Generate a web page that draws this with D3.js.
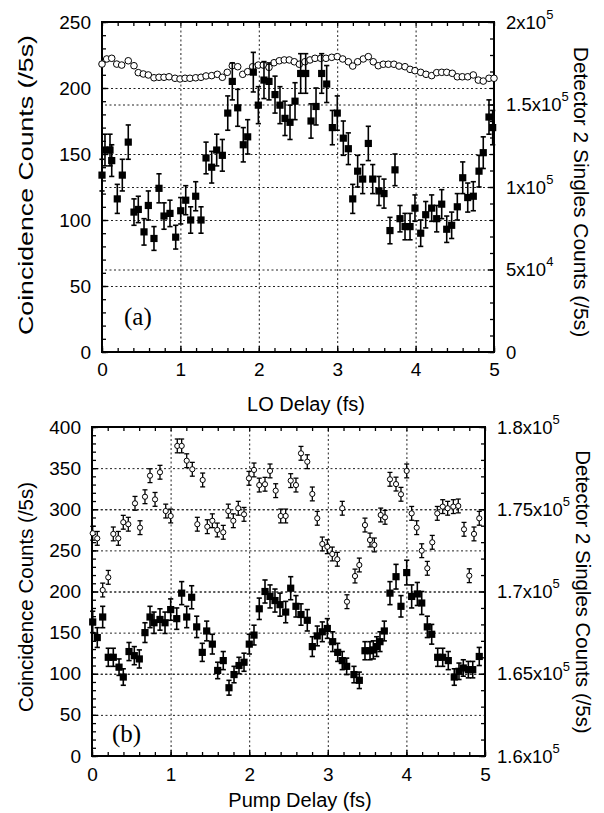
<!DOCTYPE html>
<html>
<head>
<meta charset="utf-8">
<script src="https://cdn.jsdelivr.net/npm/d3@7"></script>
<style>
  body { margin: 0; background: #fff; }
  text { font-family: "Liberation Sans", Arial, sans-serif; fill: #000; }
</style>
</head>
<body>
<svg id="chart" width="604" height="813"></svg>
<script>
// ---- panel (a): LO delay scan ----
let coincXA = [0.000,0.038,0.102,0.124,0.195,0.259,0.335,0.408,0.463,0.536,0.591,0.663,0.727,0.791,0.867,0.940,1.004,1.068,1.131,1.195,
  1.263,1.327,1.399,1.463,1.535,1.604,1.662,1.731,1.802,1.858,1.930,1.994,2.066,2.130,2.207,2.270,2.334,2.398,2.462,2.534,
  2.598,2.666,2.730,2.802,2.866,2.938,3.001,3.078,3.142,3.198,3.261,3.325,3.397,3.453,3.533,3.597,3.673,3.737,3.801,3.865,
  3.929,3.992,4.065,4.129,4.205,4.269,4.333,4.397,4.460,4.532,4.601,4.665,4.736,4.809,4.863,4.936,4.983];
let coincA = [134,153,153,145,116,134,159,106,108,91,111,86,124,103,105,87,107,115,100,118,
  100,147,140,153,149,181,205,185,157,163,212,187,206,205,195,187,177,174,190,211,
  211,175,186,211,203,170,181,162,154,116,137,131,158,131,122,120,92,138,101,95,
  95,109,90,104,109,101,112,93,96,110,132,117,118,137,151,178,170];
let coincErrA = [12,12,12,12,11,12,13,10,10,10,11,9,11,10,10,9,10,11,10,11,
  10,12,12,12,12,13,14,14,13,13,15,14,14,14,14,14,13,13,14,15,
  15,13,14,15,14,13,13,13,12,11,12,11,13,11,11,11,10,12,10,10,
  10,10,10,10,10,10,11,10,10,10,12,11,11,12,12,13,13];
let singlesXA = [0.000,0.060,0.124,0.188,0.251,0.335,0.408,0.463,0.527,0.591,0.663,0.727,0.791,0.855,0.931,0.995,1.059,1.122,1.195,1.263,
  1.327,1.399,1.471,1.535,1.598,1.662,1.731,1.795,1.858,1.922,1.994,2.057,2.130,2.194,2.261,2.325,2.389,2.453,2.517,2.589,
  2.653,2.717,2.790,2.857,2.930,3.001,3.070,3.142,3.198,3.261,3.333,3.397,3.460,3.524,3.588,3.652,3.724,3.788,3.865,3.929,
  3.992,4.065,4.133,4.205,4.269,4.333,4.397,4.468,4.532,4.596,4.665,4.736,4.800,4.863,4.936,5.000];
let singlesA = [174500,177600,178000,174500,173900,176500,173500,169300,168500,167900,166200,166500,166500,166800,165900,165500,165900,165900,166200,166500,
  167300,167500,168300,166500,169500,173500,172900,168300,169900,172900,173900,173900,172500,175300,176500,177000,177000,175900,174400,175900,
  177000,178000,178000,178000,178600,179000,177600,175900,173300,175900,177600,179000,175900,173500,174400,174400,174400,173300,172900,171300,
  170500,169500,168300,167500,169300,169500,169500,168900,166800,166800,166800,167900,164800,164200,165900,165900];

// ---- panel (b): pump delay scan ----
let coincXB = [0.009,0.067,0.136,0.207,0.271,0.344,0.398,0.471,0.538,0.602,0.674,0.738,0.789,0.865,0.929,1.001,1.078,1.141,1.205,1.268,
  1.332,1.403,1.459,1.531,1.599,1.670,1.743,1.807,1.870,1.934,2.001,2.061,2.128,2.201,2.265,2.328,2.392,2.464,2.528,2.595,
  2.659,2.739,2.803,2.866,2.930,2.994,3.062,3.126,3.184,3.240,3.333,3.401,3.473,3.537,3.579,3.622,3.664,3.719,3.791,3.868,
  3.931,4.004,4.067,4.139,4.195,4.266,4.322,4.398,4.462,4.533,4.609,4.669,4.724,4.788,4.844,4.927];
let coincB = [163,144,169,120,120,108,96,127,122,118,150,169,162,166,162,178,167,198,169,193,
  157,126,152,136,104,116,83,99,110,114,136,147,179,200,194,189,184,175,204,182,
  172,165,133,146,151,155,139,126,116,109,99,92,128,128,129,133,139,152,198,218,
  182,223,194,197,186,157,148,120,120,116,96,103,107,105,105,121];
let coincErrB = [13,12,13,11,11,10,10,11,11,11,12,13,13,13,13,13,13,14,13,14,
  13,11,12,12,10,11,9,10,10,11,12,12,13,14,14,14,14,13,14,13,
  13,13,12,12,12,12,12,11,11,10,10,10,11,11,11,12,12,12,14,15,
  13,15,14,14,14,13,12,11,11,11,10,10,10,10,10,11];
let singlesXB = [0.009,0.067,0.136,0.207,0.271,0.335,0.398,0.462,0.547,0.611,0.674,0.738,0.802,0.865,0.938,1.001,1.085,1.141,1.205,1.276,
  1.340,1.408,1.467,1.531,1.594,1.670,1.734,1.798,1.861,1.934,1.997,2.061,2.128,2.201,2.265,2.337,2.401,2.464,2.528,2.595,
  2.659,2.739,2.803,2.866,2.930,2.994,3.057,3.121,3.184,3.244,3.346,3.401,3.473,3.537,3.592,3.673,3.728,3.791,3.868,3.931,
  4.004,4.067,4.131,4.195,4.266,4.329,4.393,4.462,4.525,4.597,4.660,4.733,4.800,4.860,4.927];
let singlesB = [173540,173230,170090,170860,173500,173230,174210,174090,175360,173880,175760,177040,175600,177250,174890,174590,178850,178850,177950,177430,
  174090,176780,173940,174300,173740,173600,174890,174300,175060,174690,176880,177390,176470,176520,177330,176130,174590,174590,176740,176470,
  178400,177890,175930,174450,172890,172720,172280,171960,175060,169380,170940,171610,174040,173130,172830,174650,174510,176820,176530,175910,
  177330,174750,173880,172480,171410,172990,174750,175160,175060,175160,175200,173780,170960,173500,174450];
let singlesErrB = 420;

// ---- tick labels ----
let delayTicks = [0, 1, 2, 3, 4, 5];
let coincTicksA = [0, 50, 100, 150, 200, 250];
let coincTicksB = [0, 50, 100, 150, 200, 250, 300, 350, 400];
let singlesTicksA = [0, 50000, 100000, 150000, 200000];
let singlesLabelsA = [["0", ""], ["5x10", "4"], ["1x10", "5"], ["1.5x10", "5"], ["2x10", "5"]];
let singlesTicksB = [160000, 165000, 170000, 175000, 180000];
let singlesLabelsB = [["1.6x10", "5"], ["1.65x10", "5"], ["1.7x10", "5"], ["1.75x10", "5"], ["1.8x10", "5"]];

let svg = d3.select('#chart');
svg.append('rect').attr('width', 604).attr('height', 813).attr('fill', '#fff');

let drawPanel = function (p) {
  let x = d3.scaleLinear().domain([0, 5]).range([p.left, p.right]),
      yL = d3.scaleLinear().domain(p.leftDomain).range([p.bottom, p.top]),
      yR = d3.scaleLinear().domain(p.rightDomain).range([p.bottom, p.top]),
      w = p.right - p.left,
      h = p.bottom - p.top;

  let g = svg.append('g');
  let noDomain = function (sel) { sel.select('.domain').remove(); };

  // dotted grid
  let grid = g.append('g').attr('class', 'grid');
  grid.append('g').attr('transform', `translate(0,${p.bottom})`)
      .call(d3.axisBottom(x).tickValues([1, 2, 3, 4]).tickSize(-h).tickFormat('')).call(noDomain);
  grid.append('g').attr('transform', `translate(${p.left},0)`)
      .call(d3.axisLeft(yL).tickValues(p.leftTicks.slice(1, -1)).tickSize(-w).tickFormat('')).call(noDomain);
  grid.append('g').attr('transform', `translate(${p.right},0)`)
      .call(d3.axisRight(yR).tickValues(p.rightTicks.slice(1, -1)).tickSize(-w).tickFormat('')).call(noDomain);
  grid.selectAll('line').attr('stroke', '#222').attr('stroke-width', 1).attr('stroke-dasharray', '2,2.5');

  // ticks (inward)
  let minorX = d3.range(0, 5.001, 0.2);
  let addAxis = function (axis, tr, labelled) {
    let a = g.append('g').attr('transform', tr).call(axis).call(noDomain);
    a.selectAll('line').attr('stroke', '#000').attr('stroke-width', 1.3);
    a.attr('font-size', 19).attr('font-family', '"Liberation Sans", Arial, sans-serif');
    return a;
  };
  addAxis(d3.axisBottom(x).tickValues(delayTicks).tickSize(-6).tickPadding(p.xPad).tickFormat(d3.format('d')), `translate(0,${p.bottom})`);
  addAxis(d3.axisBottom(x).tickValues(minorX).tickSize(-4).tickFormat(''), `translate(0,${p.bottom})`);
  addAxis(d3.axisTop(x).tickValues(minorX).tickSize(-4).tickFormat(''), `translate(0,${p.top})`);
  addAxis(d3.axisLeft(yL).tickValues(p.leftTicks).tickSize(-6).tickPadding(11).tickFormat(d3.format('d')), `translate(${p.left},0)`);
  addAxis(d3.axisLeft(yL).tickValues(d3.range(p.leftDomain[0], p.leftDomain[1] + 1, 10)).tickSize(-4).tickFormat(''), `translate(${p.left},0)`);
  addAxis(d3.axisRight(yR).tickValues(p.rightTicks).tickSize(-6).tickFormat(''), `translate(${p.right},0)`);
  addAxis(d3.axisRight(yR).tickValues(d3.range(p.rightDomain[0], p.rightDomain[1] + 1, p.rightMinor)).tickSize(-4).tickFormat(''), `translate(${p.right},0)`);

  // right tick labels with exponents
  let rl = g.append('g').attr('font-size', 18.5);
  p.rightTicks.forEach(function (v, i) {
    let t = rl.append('text').attr('x', p.right + 12).attr('y', yR(v)).attr('dy', '0.36em');
    t.append('tspan').text(p.rightLabels[i][0]);
    if (p.rightLabels[i][1])
      t.append('tspan').attr('font-size', 13).attr('dy', '-0.75em').text(p.rightLabels[i][1]);
  });

  // frame
  g.append('rect').attr('x', p.left).attr('y', p.top).attr('width', w).attr('height', h)
   .attr('fill', 'none').attr('stroke', '#000').attr('stroke-width', 2);

  // singles (open circles)
  let sData = p.singlesX.map(function (d, i) { return { x: d, v: p.singles[i] }; });
  if (p.singlesErr) {
    let eb = g.append('g').attr('stroke', '#000').attr('stroke-width', 1.3);
    sData.forEach(function (d) {
      let cx = x(d.x), y0 = yR(d.v - p.singlesErr), y1 = yR(d.v + p.singlesErr);
      eb.append('line').attr('x1', cx).attr('x2', cx).attr('y1', y0).attr('y2', y1);
      eb.append('line').attr('x1', cx - 2.5).attr('x2', cx + 2.5).attr('y1', y0).attr('y2', y0);
      eb.append('line').attr('x1', cx - 2.5).attr('x2', cx + 2.5).attr('y1', y1).attr('y2', y1);
    });
  }
  g.append('g').selectAll('circle').data(sData).join('circle')
   .attr('cx', d => x(d.x)).attr('cy', d => yR(d.v)).attr('r', p.circleR)
   .attr('fill', '#fff').attr('stroke', '#000').attr('stroke-width', 1);

  // coincidences (filled squares with error bars)
  let cData = p.coincX.map(function (d, i) { return { x: d, v: p.coinc[i], e: p.coincErr[i] }; });
  let cb = g.append('g').attr('stroke', '#000').attr('stroke-width', 1.6);
  cData.forEach(function (d) {
    let cx = x(d.x), y0 = yL(d.v - d.e), y1 = yL(d.v + d.e);
    cb.append('line').attr('x1', cx).attr('x2', cx).attr('y1', y0).attr('y2', y1);
    cb.append('line').attr('x1', cx - 2.6).attr('x2', cx + 2.6).attr('y1', y0).attr('y2', y0);
    cb.append('line').attr('x1', cx - 2.6).attr('x2', cx + 2.6).attr('y1', y1).attr('y2', y1);
  });
  g.append('g').selectAll('rect').data(cData).join('rect')
   .attr('x', d => x(d.x) - 3.6).attr('y', d => yL(d.v) - 3.6)
   .attr('width', 7.2).attr('height', 7.2).attr('fill', '#000');

  // titles
  g.append('text').attr('x', p.xTitleX).attr('y', p.xTitleY).attr('text-anchor', 'middle')
   .attr('font-size', 20).text(p.xTitle);
  let lt = g.append('text').attr('transform', `translate(33,${p.leftTitleY}) rotate(-90)`)
   .attr('text-anchor', 'middle').attr('font-size', 20.5).text('Coincidence Counts (/5s)');
  if (p.leftTitleLen) lt.attr('textLength', p.leftTitleLen).attr('lengthAdjust', 'spacingAndGlyphs');
  g.append('text').attr('transform', `translate(${p.rightTitleX},${p.rightTitleY}) rotate(90)`)
   .attr('text-anchor', 'middle').attr('font-size', p.rightTitleSize).text('Detector 2 Singles Counts (/5s)');
  g.append('text').attr('x', p.tagX).attr('y', p.tagY)
   .attr('font-family', '"Liberation Serif", "Times New Roman", serif').style('font-family', '"Liberation Serif", serif')
   .attr('font-size', 25).text(p.tag);
};

drawPanel({
  left: 102, right: 494, top: 22, bottom: 352,
  leftDomain: [0, 250], rightDomain: [0, 200000], rightMinor: 10000,
  leftTicks: coincTicksA, rightTicks: singlesTicksA, rightLabels: singlesLabelsA,
  coincX: coincXA, coinc: coincA, coincErr: coincErrA,
  singlesX: singlesXA, singles: singlesA, singlesErr: 0, circleR: 3.3,
  xPad: 11, xTitle: 'LO Delay (fs)', xTitleX: 306, xTitleY: 411,
  leftTitleY: 185, leftTitleLen: 300,
  rightTitleX: 574, rightTitleY: 192, rightTitleSize: 20.9,
  tag: '(a)', tagX: 124, tagY: 325
});

drawPanel({
  left: 92, right: 485, top: 427, bottom: 756,
  leftDomain: [0, 400], rightDomain: [160000, 180000], rightMinor: 1000,
  leftTicks: coincTicksB, rightTicks: singlesTicksB, rightLabels: singlesLabelsB,
  coincX: coincXB, coinc: coincB, coincErr: coincErrB,
  singlesX: singlesXB, singles: singlesB, singlesErr: singlesErrB, circleR: 2.6,
  xPad: 12, xTitle: 'Pump Delay (fs)', xTitleX: 300, xTitleY: 807,
  leftTitleY: 597, leftTitleLen: 0,
  rightTitleX: 576, rightTitleY: 592, rightTitleSize: 20.4,
  tag: '(b)', tagX: 112, tagY: 742
});
</script>
</body>
</html>
